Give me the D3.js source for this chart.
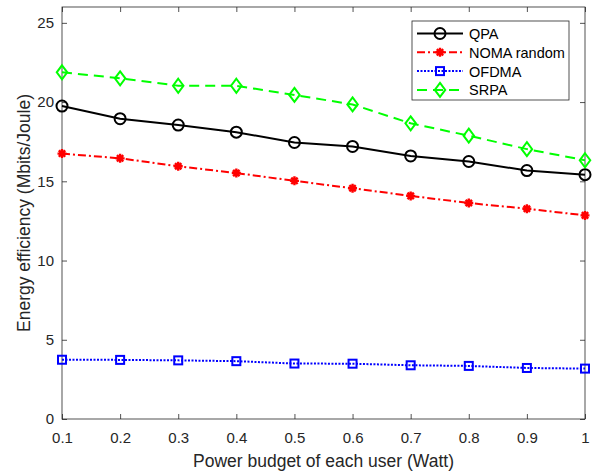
<!DOCTYPE html>
<html>
<head>
<meta charset="utf-8">
<script src="https://cdn.jsdelivr.net/npm/d3@7"></script>
<style>
  html, body { margin: 0; padding: 0; background: #fff; }
  svg { display: block; font-family: "Liberation Sans", Arial, sans-serif; }
</style>
</head>
<body>
<svg id="chart" width="597" height="473"></svg>
<script>
// Power budget per user (Watt)
const powerBudget = [0.1, 0.2, 0.3, 0.4, 0.5, 0.6, 0.7, 0.8, 0.9, 1.0];

// Energy efficiency (Mbits/Joule) per scheme
const qpaValues = [19.75, 18.95, 18.55, 18.1, 17.45, 17.2, 16.6, 16.25, 15.68, 15.42];
const nomaRandomValues = [16.75, 16.45, 15.95, 15.52, 15.03, 14.56, 14.08, 13.63, 13.27, 12.85];
const ofdmaValues = [3.74, 3.73, 3.70, 3.65, 3.50, 3.49, 3.39, 3.35, 3.22, 3.18];
const srpaValues = [21.88, 21.5, 21.03, 21.03, 20.45, 19.85, 18.66, 17.88, 17.03, 16.33];

const xTicks = [0.1, 0.2, 0.3, 0.4, 0.5, 0.6, 0.7, 0.8, 0.9, 1];
const yTicks = [0, 5, 10, 15, 20, 25];

const seriesNames = ["QPA", "NOMA random", "OFDMA", "SRPA"];
const seriesValues = [qpaValues, nomaRandomValues, ofdmaValues, srpaValues];

const styles = {
  "QPA":         { color: "#000000", dash: null,      width: 2,   marker: "circle" },
  "NOMA random": { color: "#ff0000", dash: "8,3,2,3", width: 2,   marker: "asterisk" },
  "OFDMA":       { color: "#0000ff", dash: "2,1.5",   width: 2,   marker: "square" },
  "SRPA":        { color: "#00ff00", dash: "10,6",    width: 2,   marker: "diamond" }
};

const margin = { left: 62, right: 12, top: 7, bottom: 54 };
const W = 597, H = 473;
const svg = d3.select("#chart");

const x = d3.scaleLinear().domain([0.1, 1]).range([margin.left, W - margin.right]);
const y = d3.scaleLinear().domain([0, 26]).range([H - margin.bottom, margin.top]);

const axisColor = "#262626";
const tickLen = 5;

// Axes box and ticks (ticks drawn inward on all four sides)
const axisG = svg.append("g");

function styleAxis(g) {
  g.select(".domain").remove();
  g.selectAll(".tick line").attr("stroke", axisColor).attr("stroke-width", 0.8);
  g.selectAll(".tick text").attr("fill", axisColor).attr("font-size", 15)
    .attr("font-family", "Liberation Sans, Arial, sans-serif");
}

axisG.append("g")
  .attr("transform", `translate(0,${y(0)})`)
  .call(d3.axisBottom(x).tickValues(xTicks).tickSize(-tickLen).tickPadding(13.5)
    .tickFormat(d => d === 1 ? "1" : d3.format(".1f")(d)))
  .call(styleAxis);

axisG.append("g")
  .attr("transform", `translate(0,${y(26)})`)
  .call(d3.axisTop(x).tickValues(xTicks).tickSize(-tickLen).tickFormat(""))
  .call(styleAxis);

axisG.append("g")
  .attr("transform", `translate(${x(0.1)},0)`)
  .call(d3.axisLeft(y).tickValues(yTicks).tickSize(-tickLen).tickPadding(8))
  .call(styleAxis);

axisG.append("g")
  .attr("transform", `translate(${x(1)},0)`)
  .call(d3.axisRight(y).tickValues(yTicks).tickSize(-tickLen).tickFormat(""))
  .call(styleAxis);

axisG.append("rect")
  .attr("x", x(0.1)).attr("y", y(26))
  .attr("width", x(1) - x(0.1)).attr("height", y(0) - y(26))
  .attr("fill", "none").attr("stroke", axisColor).attr("stroke-width", 0.8);

// Axis titles
svg.append("text")
  .attr("x", (x(0.1) + x(1)) / 2).attr("y", 467)
  .attr("text-anchor", "middle").attr("font-size", 17.5).attr("fill", axisColor)
  .text("Power budget of each user (Watt)");

svg.append("text")
  .attr("transform", `translate(30,${(y(0) + y(26)) / 2}) rotate(-90)`)
  .attr("text-anchor", "middle").attr("font-size", 17.5).attr("fill", axisColor)
  .text("Energy efficiency (Mbits/Joule)");

// Marker drawing
function drawMarker(g, type, cx, cy, color) {
  if (type === "circle") {
    g.append("circle").attr("cx", cx).attr("cy", cy).attr("r", 5.5)
      .attr("fill", "none").attr("stroke", color).attr("stroke-width", 2);
  } else if (type === "square") {
    g.append("rect").attr("x", cx - 4).attr("y", cy - 4).attr("width", 8).attr("height", 8)
      .attr("fill", "none").attr("stroke", color).attr("stroke-width", 2);
  } else if (type === "diamond") {
    const r = 7;
    g.append("path")
      .attr("d", `M${cx},${cy - r}L${cx + r * 0.75},${cy}L${cx},${cy + r}L${cx - r * 0.75},${cy}Z`)
      .attr("fill", "none").attr("stroke", color).attr("stroke-width", 2);
  } else if (type === "asterisk") {
    const r = 4.5;
    const p = [];
    for (let k = 0; k < 4; k++) {
      const a = k * Math.PI / 4;
      p.push(`M${cx - r * Math.cos(a)},${cy - r * Math.sin(a)}L${cx + r * Math.cos(a)},${cy + r * Math.sin(a)}`);
    }
    g.append("path").attr("d", p.join("")).attr("stroke", color).attr("stroke-width", 2.4)
      .attr("fill", "none");
    g.append("circle").attr("cx", cx).attr("cy", cy).attr("r", 2.2).attr("fill", color);
  }
}

// Series
const line = d3.line().x(d => x(d[0])).y(d => y(d[1]));
const plotG = svg.append("g");

seriesNames.forEach((name, i) => {
  const st = styles[name];
  const pts = powerBudget.map((p, j) => [p, seriesValues[i][j]]);
  const g = plotG.append("g");
  g.append("path").datum(pts).attr("d", line)
    .attr("fill", "none").attr("stroke", st.color).attr("stroke-width", st.width)
    .attr("stroke-dasharray", st.dash);
  pts.forEach(d => drawMarker(g, st.marker, x(d[0]), y(d[1]), st.color));
});

// Legend
const lg = svg.append("g");
const lx = 412, ly = 21, lw = 157, lh = 79;
lg.append("rect").attr("x", lx).attr("y", ly).attr("width", lw).attr("height", lh)
  .attr("fill", "#fff").attr("stroke", axisColor).attr("stroke-width", 0.8);

seriesNames.forEach((name, i) => {
  const st = styles[name];
  const ry = ly + 12.5 + i * 18.8;
  lg.append("line").attr("x1", lx + 5).attr("x2", lx + 51).attr("y1", ry).attr("y2", ry)
    .attr("stroke", st.color).attr("stroke-width", st.width).attr("stroke-dasharray", st.dash);
  drawMarker(lg, st.marker, lx + 28, ry, st.color);
  lg.append("text").attr("x", lx + 57).attr("y", ry + 5.5)
    .attr("font-size", 14.5).attr("fill", "#000").text(name);
});
</script>
</body>
</html>
